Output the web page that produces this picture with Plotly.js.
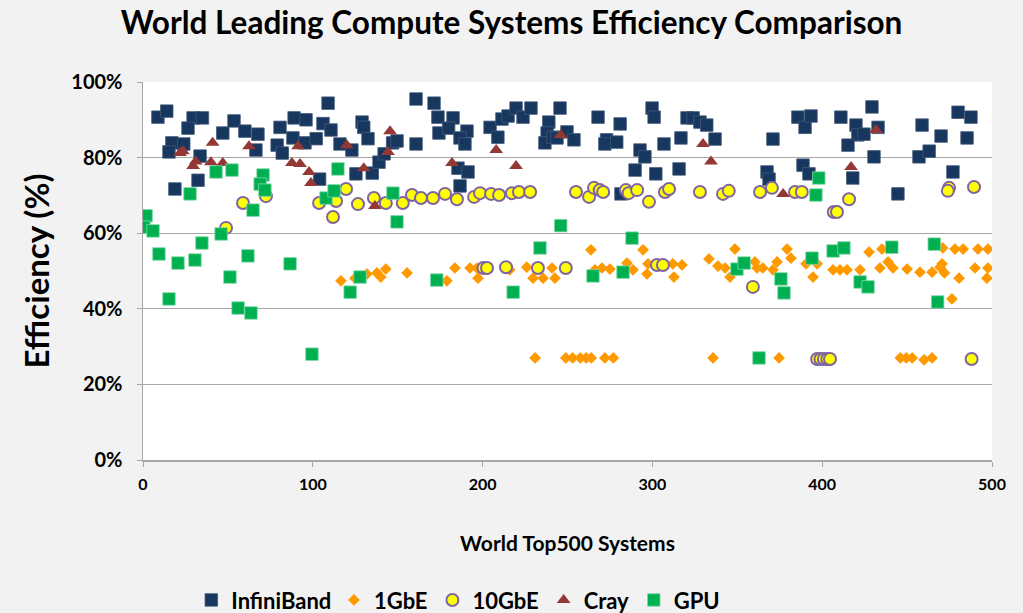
<!DOCTYPE html>
<html>
<head>
<meta charset="utf-8">
<script src="https://cdn.plot.ly/plotly-3.0.1.min.js"></script>
<style>html,body{margin:0;padding:0;background:#f2f2f2;}#chart{width:1023px;height:613px;}</style>
</head>
<body>
<div id="chart"></div>
<script>
// InfiniBand
const ibX = [8.8,14,29.5,35,26.5,47,53.6,60,67.7,17,24,15.3,33.6,66.5,32.4,18.8,80.7,79,82,88.3,95.4,102,89,96,109,106,110.7,116,104,
  123,129,130,132.5,125.4,135,139,142,147,149.6,160.8,160.8,171.4,173.7,182.6,174.3,180,190.8,186.7,189.6,185.5,191.4,186.7,204.4,209,211.4,215,219.7,223.8,228.5,239,238,236.7,241.5,
  245.6,243.8,249.7,253.8,268,281,273,272,279,299.8,301,292.7,295.6,289.8,302,306.8,316.8,315.7,320.4,324,328,332,336.9,281.5,
  367.5,368.7,371,385.7,389.9,393.4,388.7,392.2,411,419.9,421,424.6,432.9,429.3,415.2,430.5,418,444.6,458.8,470,457,463,480,487.6,485.3,477];
const ibY = [90.7,92.3,90.5,90.5,87.8,86.5,89.7,87,86.2,83.9,83.6,81.5,80.4,82,74,71.7,88,83.3,81.2,85.2,83.9,85,90.5,90,94.4,89,87.3,83.6,74.3,
  82,89.4,88,85,75.7,75.9,78.8,81,83.9,84.4,83.6,95.5,94.4,90.7,90.5,86.5,87.8,87,85.2,83.6,77.2,76.2,72.5,88,85.4,90.2,91,93.1,90.7,93.1,89.4,86.5,83.9,85.4,
  93.1,85.2,86.8,84.7,90.7,88.9,84.7,83.6,84.1,93.1,90.7,82,80.2,76.7,75.7,83.6,85.2,77,90.5,90.5,89.4,88.6,84.9,70.4,
  76.2,74.3,84.9,90.7,88,91,78,75.7,90.7,88.6,86,86.2,88,93.4,83.3,80.2,74.6,70.4,88.6,85.7,80.2,81.7,92,90.7,85.2,76.2];

// 1GbE
const gbeX = [116.6,124.8,131.9,137.8,140,143,155.5,179,183.7,192.6,196.7,197.3,199.6,216,226,229.7,235.6,240.9,242.6,263.8,266.2,270.3,275,285,288.6,294.5,296.8,297.4,312,317.4,312.7,333.3,338.6,342.8,345.7,348.6,360.4,361.6,365,371,373.4,379.3,381.6,390.5,394.6,397,406.4,410.5,414.6,422.3,427.6,435.2,434,438.8,441.7,450,457.6,464.7,470.6,471,478.2,483,491.7,497.6,480.6,490,497.6,497,476.4,469.4,472,
  230.9,249,253,257.5,261,264,272,277,335.7,374.6,446,449.5,453,460,464.7];
const gbeY = [47.4,48.1,49.2,49.5,48.4,50.5,49.5,47.4,50.8,50.8,50.8,48.1,50.8,50.3,51,48.1,48.1,50.8,48.1,55.6,50.3,50.8,50.5,52.1,50.3,55.6,49.2,51.9,51.9,51.6,48.4,53.2,51.3,50.8,48.4,55.8,52.4,50.8,50.8,50.3,52.4,55.8,53.4,51.9,48.4,51.9,50.3,50.3,50.3,50.3,55,55.8,50.8,52.4,50.8,50.5,49.7,49.7,51.9,56.1,55.8,55.8,55.8,55.8,48.1,50.8,50.8,48.1,42.6,51,49.5,
  27,27,27,27,27,27,27,27,27,27,27,27,27,26.5,27];

// 10GbE
const tgX = [58.9,72.4,48.9,103.7,113.7,111.9,119.6,126.6,136,143,153,158.4,163.7,170.8,177.9,184.9,195,198.5,205,209.7,217.3,221.4,228,200.5,202.6,213.8,232.6,249,255,262.7,265.6,269,271,284.4,286,291,298,307.4,309.8,328,341.6,345,363.4,302.7,306.2,370.4,384,388,415.8,406.8,408.7,474.7,474,489.4,359.2,397,399,401,403,404.6,488];
const tgY = [68,69.8,61.4,68,68.5,64.3,71.7,67.7,69.3,68,68,70.1,69.3,69.3,70.4,69,69.6,70.6,70.4,70.1,70.6,70.9,70.9,50.8,50.8,51,50.8,50.8,70.9,69.6,72,71.4,70.9,71.4,70.6,71.4,68.3,70.9,71.7,70.9,70.4,71.2,70.9,51.6,51.6,72,70.9,70.9,69,65.6,65.6,72,71.2,72.2,45.8,26.7,26.7,26.7,26.7,26.7,26.7];

// Cray
const crayX = [21.8,23.5,31,29.5,41,40,47,62.4,91.3,87.7,92.5,97.8,98.9,120,130,145.5,144.3,136.6,182,208,219.7,246,329.8,334.5,431.7,417,377];
const crayY = [81.2,81.7,79,77.8,83.9,78.8,78.6,83,83,78.6,78.3,76.2,73.3,83.3,77.2,87,81.5,67.2,78.6,82,77.8,86,83.6,79,87.3,77.5,70.4];

// GPU
const gpuX = [1.8,0.5,5.9,9.4,20.6,30.6,34.7,27.7,43,52.4,46,61.8,51.2,15.3,56,63.6,99.5,86.6,64.8,70.7,69,71.8,114.8,107.8,112.5,147.2,149.6,233.8,127.8,122,173,218,246,288,265,282.7,349.8,354,362.8,398,396.3,394,406.4,412.8,441,466,375.7,377.5,422.3,427,468];
const gpuY = [64.6,61.6,60.6,54.5,52.1,52.9,57.4,70.4,76.2,76.7,59.8,54,48.4,42.6,40.2,38.9,28,51.9,66.1,75.4,73,71.4,77,69.3,71.2,70.6,63,56.1,48.4,44.4,47.6,44.4,62,58.7,48.7,49.7,50.5,52.1,27,74.6,70.1,53.4,55.3,56.1,56.3,57.1,47.9,44.2,47.1,45.8,41.8];

const FONT = 'Lato, "Open Sans", sans-serif';

const traces = [
  {x: ibX, y: ibY, name: 'InfiniBand', type: 'scatter', mode: 'markers',
   marker: {symbol: 'square', size: 12.5, color: '#17375E', line: {color: '#41597a', width: 0.8}}},
  {x: gbeX, y: gbeY, name: '1GbE', type: 'scatter', mode: 'markers',
   marker: {symbol: 'diamond', size: 9, color: '#FF9900', line: {width: 0}}},
  {x: tgX, y: tgY, name: '10GbE', type: 'scatter', mode: 'markers',
   marker: {symbol: 'circle', size: 12, color: '#FFFF00', line: {color: '#8064A2', width: 2}}},
  {x: crayX, y: crayY, name: 'Cray', type: 'scatter', mode: 'markers',
   marker: {symbol: 'triangle-up', size: 12, color: '#953735', line: {width: 0}}},
  {x: gpuX, y: gpuY, name: 'GPU', type: 'scatter', mode: 'markers',
   marker: {symbol: 'square', size: 12.5, color: '#00B050', line: {color: '#7fd8a7', width: 0.8}}}
];

const layout = {
  width: 1023, height: 613,
  paper_bgcolor: '#f2f2f2', plot_bgcolor: '#ffffff',
  margin: {l: 143, r: 31, t: 82, b: 153},
  font: {family: FONT, color: '#000000'},
  title: {text: '<b>World Leading Compute Systems Efficiency Comparison</b>',
          font: {family: FONT, size: 31.5, color: '#000000'},
          x: 0.5, xref: 'container', xanchor: 'center', y: 0.962, yref: 'container', yanchor: 'middle'},
  xaxis: {range: [0, 500], dtick: 100, tick0: 0, showgrid: false, zeroline: false,
          showline: true, linecolor: '#a6a6a6', linewidth: 1.5,
          ticks: 'outside', ticklen: 5, tickcolor: '#a6a6a6',
          tickfont: {family: FONT, size: 16, color: '#000'}, ticklabelstandoff: 4,
          title: {text: '<b>World Top500 Systems</b>', font: {family: FONT, size: 21, color: '#000'}, standoff: 44},
          automargin: false, fixedrange: true},
  yaxis: {range: [0, 100], dtick: 20, tick0: 0, ticksuffix: '%',
          showgrid: true, gridcolor: '#a6a6a6', gridwidth: 1, zeroline: false,
          showline: true, linecolor: '#a6a6a6', linewidth: 1.5,
          ticks: 'outside', ticklen: 5, tickcolor: '#a6a6a6',
          tickfont: {family: FONT, size: 20, color: '#000'}, ticklabelstandoff: 10,
          title: {text: '<b>Efficiency (%)</b>', font: {family: FONT, size: 33, color: '#000'}, standoff: 12},
          automargin: false, fixedrange: true},
  showlegend: true,
  legend: {orientation: 'h', xref: 'container', yref: 'container', x: 0.187, xanchor: 'left', y: 0.021, yanchor: 'middle',
           font: {family: FONT, size: 22, color: '#000'}, bgcolor: 'rgba(0,0,0,0)', itemclick: false, tracegroupgap: 0}
};

Plotly.newPlot('chart', traces, layout, {displayModeBar: false, staticPlot: true});
document.querySelectorAll('#chart .xtick text, #chart .ytick text, #chart .legendtext').forEach(t => t.style.fontWeight = 'bold');
</script>
</body>
</html>
